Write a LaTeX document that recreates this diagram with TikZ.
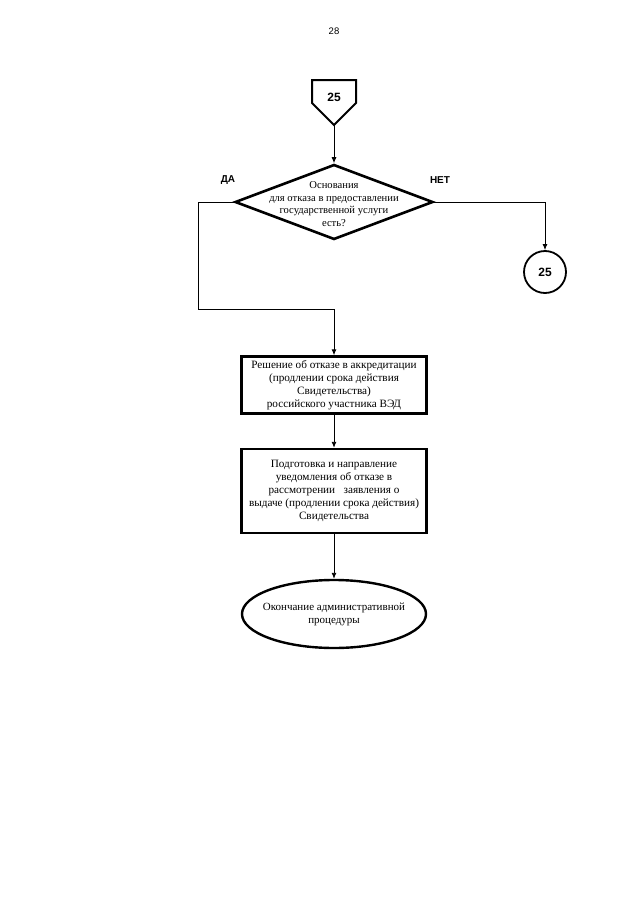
\documentclass[tikz,border=0pt]{standalone}
\usepackage{fontspec}
\setmainfont{Liberation Serif}
\newfontfamily\labfont{Liberation Sans}
\usetikzlibrary{arrows.meta,shapes.geometric,positioning}
\tikzset{
  wire/.style={black,line width=0.9pt},
  flow/.style={wire,-{Latex[length=6pt,width=5pt]}},
  block/.style={draw=black,line width=2.4pt,minimum width=185pt,inner sep=1pt,
                align=center,font=\fontsize{11.2}{13.2}\selectfont},
  decision/.style={diamond,draw=black,line width=2.6pt,minimum width=198pt,
                   minimum height=75pt,inner sep=0pt},
  asktext/.style={align=center,font=\fontsize{10.6}{12.4}\selectfont},
  terminal/.style={ellipse,draw=black,line width=2.4pt,minimum width=184pt,
                   minimum height=68pt,inner xsep=-6pt,inner ysep=0pt,
                   align=center,font=\fontsize{11}{13}\selectfont},
  connector/.style={circle,draw=black,line width=1.8pt,minimum size=42pt,
                    inner sep=0pt,font=\labfont\bfseries\fontsize{12}{14}\selectfont},
  lab/.style={font=\labfont\bfseries\fontsize{10}{12}\selectfont},
}
\begin{document}
\begin{tikzpicture}[x=1pt,y=-1pt]
  \path[use as bounding box,fill=white] (0,0) rectangle (640,905);
  \node[font=\labfont\fontsize{9.5}{11}\selectfont] (page) at (334,31) {28};

  % off-page connector
  \draw[line width=2pt,line join=miter] (312,80) -- (356,80) -- (356,103)
    -- (334,125) -- (312,103) -- cycle;
  \coordinate (jin) at (334,125);
  \node[lab,font=\labfont\bfseries\fontsize{12}{14}\selectfont] (jinlab) at (334,97) {25};

  \node[decision] (ask) at (334,202) {};
  \node[asktext] (asklab) at (334,204)
    {Основания\\для отказа в предоставлении\\государственной услуги\\есть?};
  \node[lab] (yes) at (228,180) {ДА};
  \node[lab] (no) at (440,180) {НЕТ};

  \node[connector] (jout) at (545,272) {25};

  \node[block,minimum height=57pt] (decide) at (334,385)
    {Решение об отказе в аккредитации\\(продлении срока действия\\Свидетельства)\\российского участника ВЭД};
  \node[block,minimum height=84pt] (notify) at (334,491)
    {Подготовка и направление\\уведомления об отказе в\\рассмотрении \ \ заявления о\\выдаче (продлении срока действия)\\Свидетельства};
  \node[terminal] (finish) at (334,614)
    {Окончание административной\\процедуры};

  \draw[flow] (jin) -- (ask.north);
  \draw[wire] (ask.west) -- (198,202) -- (198,309) -- (334,309);
  \draw[flow] (334,309) -- (decide.north);
  \draw[flow] (ask.east) -| (jout.north);
  \draw[flow] (decide.south) -- (notify.north);
  \draw[flow] (notify.south) -- (finish.north);
\end{tikzpicture}
\end{document}
